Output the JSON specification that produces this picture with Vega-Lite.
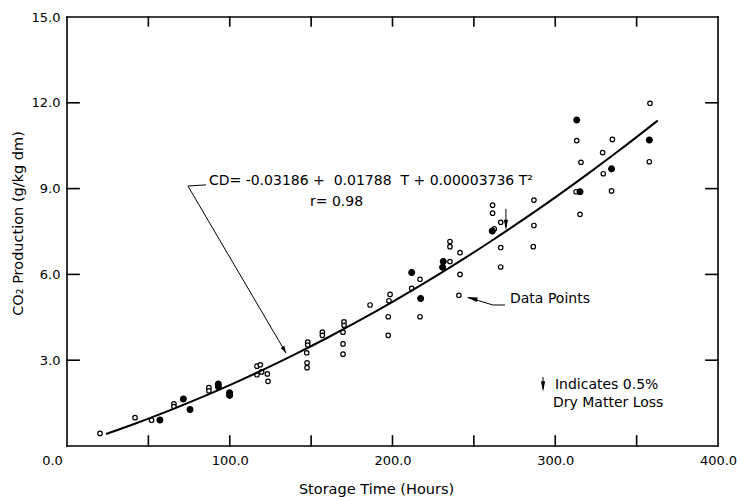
{
  "$schema": "https://vega.github.io/schema/vega-lite/v6.json",
  "width": 651,
  "height": 429,
  "autosize": "none",
  "padding": {"left": 67, "top": 17, "right": 19, "bottom": 51},
  "background": "white",
  "config": {
    "view": {"stroke": null},
    "axis": {
      "domain": false, "ticks": false,
      "labelColor": "black", "titleColor": "black",
      "labelFont": "DejaVu Sans", "titleFont": "DejaVu Sans",
      "labelFontSize": 13, "titleFontSize": 14.5, "titleFontWeight": "normal",
      "grid": false, "labelFlush": false, "labelOverlap": false
    },
    "text": {"font": "DejaVu Sans", "fontSize": 14, "color": "black"}
  },
  "datasets": {
    "points": [
      {"t": 20.3, "cd": 0.44, "kind": "open"},
      {"t": 41.8, "cd": 0.99, "kind": "open"},
      {"t": 52.0, "cd": 0.90, "kind": "open"},
      {"t": 57.1, "cd": 0.91, "kind": "filled"},
      {"t": 65.7, "cd": 1.47, "kind": "open"},
      {"t": 65.7, "cd": 1.38, "kind": "open"},
      {"t": 71.5, "cd": 1.64, "kind": "filled"},
      {"t": 75.6, "cd": 1.28, "kind": "filled"},
      {"t": 87.2, "cd": 2.04, "kind": "open"},
      {"t": 87.2, "cd": 1.93, "kind": "open"},
      {"t": 93.0, "cd": 2.17, "kind": "filled"},
      {"t": 93.0, "cd": 2.07, "kind": "filled"},
      {"t": 99.9, "cd": 1.86, "kind": "filled"},
      {"t": 99.9, "cd": 1.77, "kind": "filled"},
      {"t": 116.7, "cd": 2.79, "kind": "open"},
      {"t": 118.8, "cd": 2.84, "kind": "open"},
      {"t": 116.7, "cd": 2.49, "kind": "open"},
      {"t": 119.6, "cd": 2.59, "kind": "open"},
      {"t": 123.1, "cd": 2.52, "kind": "open"},
      {"t": 123.5, "cd": 2.26, "kind": "open"},
      {"t": 147.9, "cd": 3.63, "kind": "open"},
      {"t": 147.9, "cd": 3.53, "kind": "open"},
      {"t": 147.3, "cd": 3.26, "kind": "open"},
      {"t": 147.5, "cd": 2.91, "kind": "open"},
      {"t": 147.5, "cd": 2.74, "kind": "open"},
      {"t": 156.9, "cd": 3.98, "kind": "open"},
      {"t": 156.9, "cd": 3.87, "kind": "open"},
      {"t": 170.2, "cd": 4.34, "kind": "open"},
      {"t": 170.2, "cd": 4.22, "kind": "open"},
      {"t": 169.6, "cd": 3.98, "kind": "open"},
      {"t": 169.6, "cd": 3.57, "kind": "open"},
      {"t": 169.6, "cd": 3.21, "kind": "open"},
      {"t": 186.2, "cd": 4.93, "kind": "open"},
      {"t": 198.5, "cd": 5.30, "kind": "open"},
      {"t": 197.8, "cd": 5.08, "kind": "open"},
      {"t": 197.4, "cd": 4.52, "kind": "open"},
      {"t": 197.4, "cd": 3.87, "kind": "open"},
      {"t": 211.8, "cd": 6.07, "kind": "filled"},
      {"t": 211.8, "cd": 5.51, "kind": "open"},
      {"t": 216.9, "cd": 5.83, "kind": "open"},
      {"t": 217.3, "cd": 5.16, "kind": "filled"},
      {"t": 216.9, "cd": 4.52, "kind": "open"},
      {"t": 231.2, "cd": 6.45, "kind": "filled"},
      {"t": 230.8, "cd": 6.25, "kind": "filled"},
      {"t": 235.3, "cd": 6.45, "kind": "open"},
      {"t": 235.3, "cd": 7.15, "kind": "open"},
      {"t": 235.3, "cd": 6.97, "kind": "open"},
      {"t": 241.5, "cd": 6.76, "kind": "open"},
      {"t": 241.5, "cd": 6.00, "kind": "open"},
      {"t": 240.8, "cd": 5.27, "kind": "open"},
      {"t": 261.5, "cd": 8.42, "kind": "open"},
      {"t": 261.5, "cd": 8.14, "kind": "open"},
      {"t": 266.5, "cd": 7.82, "kind": "open"},
      {"t": 262.5, "cd": 7.59, "kind": "open"},
      {"t": 261.3, "cd": 7.52, "kind": "filled"},
      {"t": 266.5, "cd": 6.94, "kind": "open"},
      {"t": 266.5, "cd": 6.26, "kind": "open"},
      {"t": 286.9, "cd": 8.60, "kind": "open"},
      {"t": 286.9, "cd": 7.71, "kind": "open"},
      {"t": 286.5, "cd": 6.97, "kind": "open"},
      {"t": 313.2, "cd": 11.40, "kind": "filled"},
      {"t": 313.2, "cd": 10.68, "kind": "open"},
      {"t": 315.8, "cd": 9.92, "kind": "open"},
      {"t": 312.8, "cd": 8.89, "kind": "open"},
      {"t": 315.2, "cd": 8.89, "kind": "filled"},
      {"t": 315.2, "cd": 8.10, "kind": "open"},
      {"t": 329.1, "cd": 10.26, "kind": "open"},
      {"t": 335.1, "cd": 10.72, "kind": "open"},
      {"t": 329.5, "cd": 9.52, "kind": "open"},
      {"t": 334.6, "cd": 9.69, "kind": "filled"},
      {"t": 334.6, "cd": 8.92, "kind": "open"},
      {"t": 358.2, "cd": 11.98, "kind": "open"},
      {"t": 357.8, "cd": 10.70, "kind": "filled"},
      {"t": 357.8, "cd": 9.94, "kind": "open"}
    ],
    "curve": [
      {"t": 24, "cd": 0.419}, {"t": 40, "cd": 0.743}, {"t": 60, "cd": 1.175}, {"t": 80, "cd": 1.638},
      {"t": 100, "cd": 2.130}, {"t": 120, "cd": 2.652}, {"t": 140, "cd": 3.204}, {"t": 160, "cd": 3.785},
      {"t": 180, "cd": 4.397}, {"t": 200, "cd": 5.039}, {"t": 220, "cd": 5.710}, {"t": 240, "cd": 6.411},
      {"t": 260, "cd": 7.142}, {"t": 280, "cd": 7.904}, {"t": 300, "cd": 8.695}, {"t": 320, "cd": 9.515},
      {"t": 340, "cd": 10.366}, {"t": 363, "cd": 11.381}
    ],
    "frame": [
      {"x": 0, "y": 0, "x2": 400, "y2": 0},
      {"x": 0, "y": 15, "x2": 400, "y2": 15},
      {"x": 0, "y": 0, "x2": 0, "y2": 15},
      {"x": 400, "y": 0, "x2": 400, "y2": 15},
      {"x": 50, "y": 0, "x2": 50, "y2": 0.35},
      {"x": 100, "y": 0, "x2": 100, "y2": 0.35},
      {"x": 150, "y": 0, "x2": 150, "y2": 0.35},
      {"x": 200, "y": 0, "x2": 200, "y2": 0.35},
      {"x": 250, "y": 0, "x2": 250, "y2": 0.35},
      {"x": 300, "y": 0, "x2": 300, "y2": 0.35},
      {"x": 350, "y": 0, "x2": 350, "y2": 0.35},
      {"x": 50, "y": 15, "x2": 50, "y2": 14.69},
      {"x": 100, "y": 15, "x2": 100, "y2": 14.69},
      {"x": 150, "y": 15, "x2": 150, "y2": 14.69},
      {"x": 200, "y": 15, "x2": 200, "y2": 14.69},
      {"x": 250, "y": 15, "x2": 250, "y2": 14.69},
      {"x": 300, "y": 15, "x2": 300, "y2": 14.69},
      {"x": 350, "y": 15, "x2": 350, "y2": 14.69},
      {"x": 0, "y": 3, "x2": 7.4, "y2": 3},
      {"x": 0, "y": 6, "x2": 7.4, "y2": 6},
      {"x": 0, "y": 9, "x2": 7.4, "y2": 9},
      {"x": 0, "y": 12, "x2": 7.4, "y2": 12},
      {"x": 400, "y": 3, "x2": 392.6, "y2": 3},
      {"x": 400, "y": 6, "x2": 392.6, "y2": 6},
      {"x": 400, "y": 9, "x2": 392.6, "y2": 9},
      {"x": 400, "y": 12, "x2": 392.6, "y2": 12}
    ],
    "segments": [
      {"x": 74.3, "y": 9.09, "x2": 134.6, "y2": 3.25},
      {"x": 74.3, "y": 9.09, "x2": 85.4, "y2": 9.13},
      {"x": 246.4, "y": 5.19, "x2": 261.7, "y2": 4.93},
      {"x": 261.7, "y": 4.93, "x2": 269.1, "y2": 4.93},
      {"x": 269.7, "y": 8.29, "x2": 269.7, "y2": 7.65},
      {"x": 292.5, "y": 2.41, "x2": 292.5, "y2": 2.0}
    ],
    "labels": [
      {"x": 87.2, "y": 9.27, "text": "CD= -0.03186 +\u00a0 0.01788\u00a0 T + 0.00003736 T²"},
      {"x": 149.3, "y": 8.52, "text": "r= 0.98"},
      {"x": 272.2, "y": 5.15, "text": "Data Points"},
      {"x": 299.8, "y": 2.13, "text": "Indicates 0.5%"},
      {"x": 298.6, "y": 1.50, "text": "Dry Matter Loss"}
    ]
  },
  "layer": [
    {
      "data": {"name": "points"},
      "mark": {"type": "point", "filled": false, "strokeWidth": 1.2, "stroke": "black", "opacity": 1, "shape": "circle"},
      "encoding": {
        "x": {"field": "t", "type": "quantitative", "scale": {"domain": [0, 400], "nice": false, "zero": false},
          "axis": {"orient": "bottom", "values": [0, 100, 200, 300, 400], "labelPadding": 18,
            "labelBaseline": "alphabetic",
            "labelExpr": "format(datum.value, '.1f')",
            "labelOffset": {"condition": {"test": "datum.value == 0", "value": -15}, "value": 0},
            "title": "Storage Time (Hours)", "titleX": 309, "titleY": 47, "titleBaseline": "alphabetic", "titleAlign": "center"}},
        "y": {"field": "cd", "type": "quantitative", "scale": {"domain": [0, 15], "nice": false, "zero": false},
          "axis": {"orient": "left", "values": [3, 6, 9, 12, 15], "labelPadding": 7,
            "labelExpr": "format(datum.value, '.1f')",
            "title": "CO₂ Production (g/kg dm)", "titleX": -49, "titleY": 206, "titleBaseline": "middle", "titleAlign": "center", "titleAngle": 270}},
        "fill": {"field": "kind", "type": "nominal", "scale": {"domain": ["open", "filled"], "range": ["white", "black"]}, "legend": null},
        "size": {"field": "kind", "type": "nominal", "scale": {"domain": ["open", "filled"], "range": [20, 34]}, "legend": null}
      }
    },
    {
      "data": {"name": "curve"},
      "mark": {"type": "line", "color": "black", "strokeWidth": 2, "interpolate": "monotone"},
      "encoding": {
        "x": {"field": "t", "type": "quantitative"},
        "y": {"field": "cd", "type": "quantitative"}
      }
    },
    {
      "data": {"name": "frame"},
      "mark": {"type": "rule", "color": "black", "strokeWidth": 1.6, "strokeCap": "square"},
      "encoding": {
        "x": {"field": "x", "type": "quantitative"},
        "y": {"field": "y", "type": "quantitative"},
        "x2": {"field": "x2"},
        "y2": {"field": "y2"}
      }
    },
    {
      "data": {"name": "segments"},
      "mark": {"type": "rule", "color": "black", "strokeWidth": 1},
      "encoding": {
        "x": {"field": "x", "type": "quantitative"},
        "y": {"field": "y", "type": "quantitative"},
        "x2": {"field": "x2"},
        "y2": {"field": "y2"}
      }
    },
    {
      "data": {"values": [{"x": 133.5, "y": 3.36}]},
      "mark": {"type": "point", "filled": true, "color": "black", "opacity": 1, "shape": "M0,1L-0.6,-1L0.6,-1Z", "size": 50, "angle": 330},
      "encoding": {"x": {"field": "x", "type": "quantitative"}, "y": {"field": "y", "type": "quantitative"}}
    },
    {
      "data": {"values": [{"x": 248.8, "y": 5.16}]},
      "mark": {"type": "point", "filled": true, "color": "black", "opacity": 1, "shape": "M-1,0L1,-0.4L1,0.4Z", "size": 121, "angle": 14},
      "encoding": {"x": {"field": "x", "type": "quantitative"}, "y": {"field": "y", "type": "quantitative"}}
    },
    {
      "data": {"values": [{"x": 269.7, "y": 7.73}, {"x": 292.5, "y": 2.08}]},
      "mark": {"type": "point", "filled": true, "color": "black", "opacity": 1, "shape": "M0,1L-0.4,-1L0.4,-1Z", "size": 110},
      "encoding": {"x": {"field": "x", "type": "quantitative"}, "y": {"field": "y", "type": "quantitative"}}
    },
    {
      "data": {"name": "labels"},
      "mark": {"type": "text", "align": "left", "baseline": "middle"},
      "encoding": {
        "x": {"field": "x", "type": "quantitative"},
        "y": {"field": "y", "type": "quantitative"},
        "text": {"field": "text"}
      }
    }
  ]
}
